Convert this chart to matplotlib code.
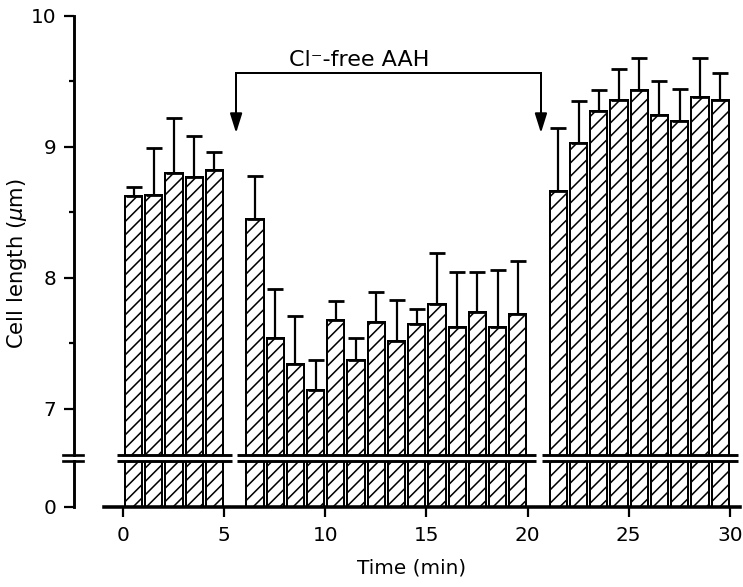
import matplotlib
matplotlib.use("Agg")
import matplotlib.pyplot as plt
from matplotlib.lines import Line2D
import numpy as np

# ---- data ----
times_ctrl = [0, 1, 2, 3, 4]
len_ctrl = [8.62, 8.63, 8.80, 8.77, 8.82]
err_ctrl = [0.07, 0.36, 0.42, 0.31, 0.14]

times_clfree = [6, 7, 8, 9, 10, 11, 12, 13, 14, 15, 16, 17, 18, 19]
len_clfree = [8.45, 7.54, 7.34, 7.14, 7.68, 7.37, 7.66, 7.52, 7.65, 7.80, 7.62, 7.74, 7.62, 7.72]
err_clfree = [0.33, 0.37, 0.37, 0.23, 0.14, 0.17, 0.23, 0.31, 0.11, 0.39, 0.42, 0.30, 0.44, 0.41]

times_wash = [21, 22, 23, 24, 25, 26, 27, 28, 29]
len_wash = [8.66, 9.03, 9.27, 9.36, 9.43, 9.24, 9.20, 9.38, 9.36]
err_wash = [0.48, 0.32, 0.16, 0.23, 0.25, 0.26, 0.24, 0.30, 0.20]

xticks = [0, 5, 10, 15, 20, 25, 30]
yticks_upper = [7, 8, 9, 10]
yticks_lower = [0]

plt.rcParams['font.family'] = ['DejaVu Sans']
plt.rcParams['hatch.linewidth'] = 1.4
plt.rcParams['mathtext.fontset'] = 'dejavusans'

DPI = 80
W, H = 743, 587
fig = plt.figure(figsize=(W / DPI, H / DPI), dpi=DPI)

def px2fig(x0, y_top, x1, y_bot):
    return [x0 / W, 1 - y_bot / H, (x1 - x0) / W, (y_bot - y_top) / H]

ax_up = fig.add_axes(px2fig(104, 15.7, 740, 455))
ax_lo = fig.add_axes(px2fig(104, 461, 740, 507))

xlim = (-0.94, 30.5)
fs = 18
off = 0.52
bw = 0.85

all_t = times_ctrl + times_clfree + times_wash
all_v = len_ctrl + len_clfree + len_wash
all_e = err_ctrl + err_clfree + err_wash
xc = np.array(all_t) + off

for ax in (ax_up, ax_lo):
    ax.bar(xc, all_v, width=bw, color='white', edgecolor='black',
           linewidth=1.8, hatch='//', zorder=2)
    ax.set_xlim(*xlim)
    ax.spines['top'].set_visible(False)
    ax.spines['right'].set_visible(False)
    ax.spines['left'].set_position(('outward', 27))
    ax.spines['left'].set_linewidth(2.6)
    ax.tick_params(axis='y', which='major', length=9, width=2, labelsize=fs, pad=7)
    ax.tick_params(axis='y', which='minor', length=4.5, width=2)

ax_up.errorbar(xc, all_v, yerr=[np.zeros(len(all_e)), all_e], fmt='none',
               ecolor='black', elinewidth=2, capsize=7.5, capthick=2.5, zorder=3)

ax_up.set_ylim(10 - (455 - 15.7) / 131, 10)
ax_up.set_yticks(yticks_upper)
ax_up.set_yticks([7.5, 8.5, 9.5], minor=True)
ax_up.spines['bottom'].set_visible(False)
ax_up.set_xticks([])

ax_lo.set_ylim(0, 0.35)
ax_lo.set_yticks(yticks_lower)
ax_lo.spines['bottom'].set_linewidth(3.2)
ax_lo.set_xticks(xticks)
ax_lo.tick_params(axis='x', length=9, width=2, labelsize=fs, pad=8)

# broken-baseline segments across bars
segs = [(-0.3, 5.4), (5.64, 20.4), (20.7, 30.4)]
for a, b in segs:
    ax_up.plot([a, b], [0, 0], color='black', lw=2.6, clip_on=False, zorder=5,
               transform=ax_up.get_xaxis_transform(), solid_capstyle='butt')
    ax_lo.plot([a, b], [1, 1], color='black', lw=2.6, clip_on=False, zorder=5,
               transform=ax_lo.get_xaxis_transform(), solid_capstyle='butt')

# y-axis break marks
for yy in (455, 461):
    fig.add_artist(Line2D([63 / W, 83 / W], [1 - yy / H, 1 - yy / H],
                          transform=fig.transFigure, color='black', lw=2.4))

# bracket annotation
y_br = 9.56
y_tip = 9.105
x_a, x_b = 5.59, 20.66
ax_up.plot([x_a, x_a, x_b, x_b], [y_tip + 0.05, y_br, y_br, y_tip + 0.05],
           color='black', lw=1.8, clip_on=False, solid_joinstyle='miter')
for xx in (x_a, x_b):
    ax_up.annotate('', xy=(xx, y_tip), xytext=(xx, y_tip + 0.13),
                   arrowprops=dict(arrowstyle='-|>,head_width=0.33,head_length=1.05',
                                   mutation_scale=14, color='black', lw=1.8,
                                   shrinkA=0, shrinkB=0))
ax_up.text(11.69, 9.66, 'Cl\u207b-free AAH', ha='center', va='center', fontsize=20)

fig.text(412 / W, 1 - 573 / H, 'Time (min)', ha='center', va='baseline', fontsize=fs)
fig.text(17 / W, 1 - 264 / H, r'Cell length ($\mu$m)', ha='center', va='center',
         rotation=90, fontsize=19)

fig.savefig('out.png', dpi=DPI)
